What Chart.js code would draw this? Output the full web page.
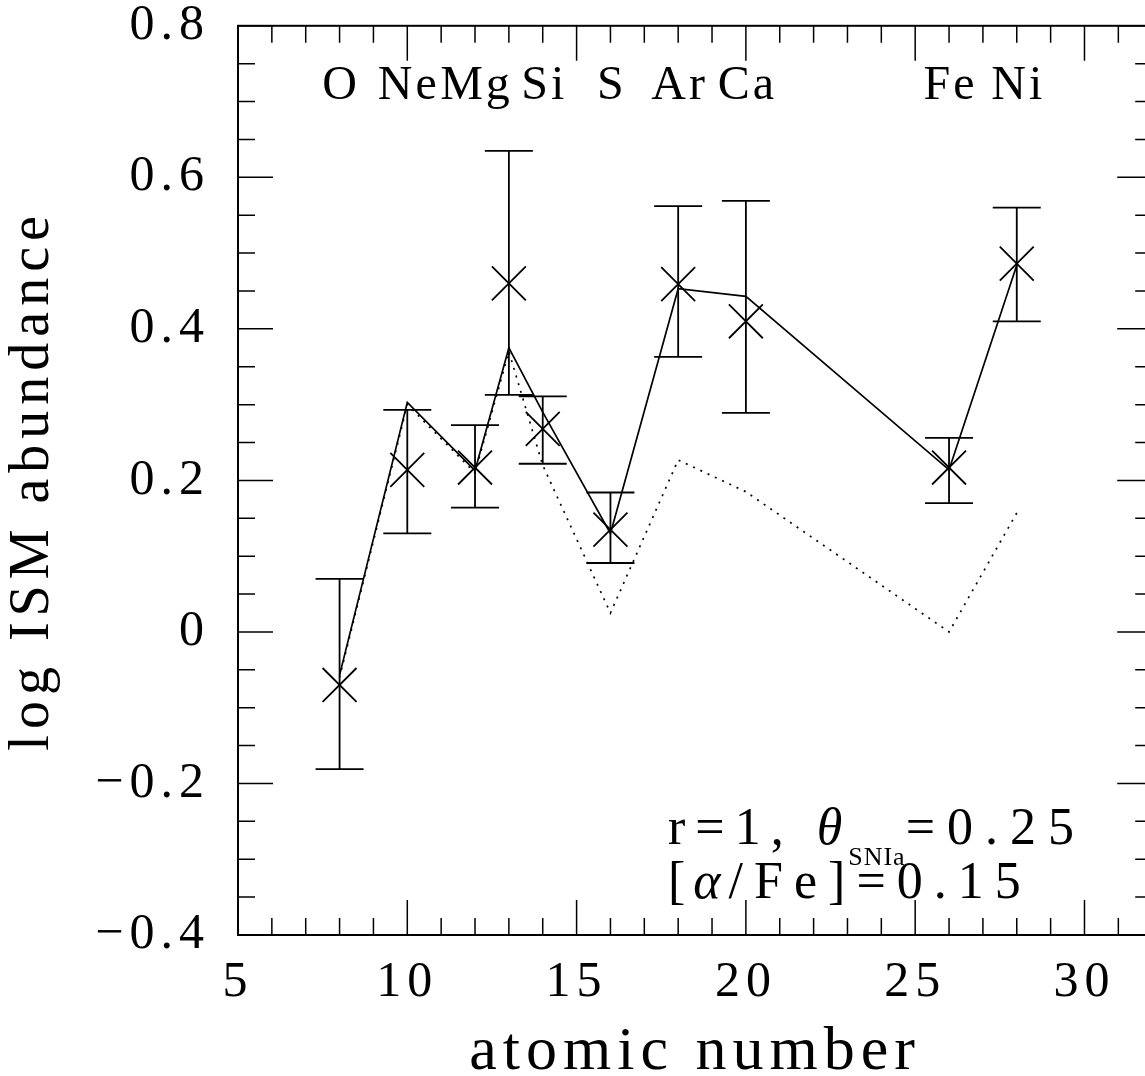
<!DOCTYPE html>
<html>
<head>
<meta charset="utf-8">
<script src="https://cdn.jsdelivr.net/npm/chart.js@4.4.1/dist/chart.umd.min.js"></script>
<style>
  html, body { margin: 0; padding: 0; background: #fff; overflow: hidden; }
  #wrap { width: 1178px; height: 1076px; }
</style>
</head>
<body>
<div id="wrap"><canvas id="abund" width="1178" height="1076"></canvas></div>
<script>
const FONT = '"Liberation Serif", "DejaVu Serif", serif'

// observed ISM abundances with their error ranges
const zObs = [8, 10, 12, 13, 14, 16, 18, 20, 26, 28]
const logObs = [-0.070, 0.214, 0.217, 0.460, 0.268, 0.135, 0.459, 0.410, 0.217, 0.486]
const errLo = [-0.181, 0.130, 0.164, 0.313, 0.222, 0.091, 0.363, 0.289, 0.170, 0.410]
const errHi = [0.070, 0.293, 0.273, 0.635, 0.311, 0.184, 0.562, 0.569, 0.256, 0.560]

// model curves
const zModel = [8, 10, 12, 13, 14, 16, 18, 20, 26, 28]
const modelSolid = [-0.057, 0.303, 0.213, 0.375, 0.290, 0.130, 0.453, 0.443, 0.214, 0.484]
const modelDotted = [-0.060, 0.300, 0.210, 0.370, 0.220, 0.025, 0.227, 0.185, 0.000, 0.157]

const elemNames = ['O', 'Ne', 'Mg', 'Si', 'S', 'Ar', 'Ca', 'Fe', 'Ni']
const elemZ = [8, 10, 12, 14, 16, 18, 20, 26, 28]

const xMajor = [5, 10, 15, 20, 25, 30]
const xTickLabels = ['5', '10', '15', '20', '25', '30']
const yMajor = [-0.4, -0.2, 0, 0.2, 0.4, 0.6, 0.8]
const yTickLabels = ['\u22120.4', '\u22120.2', '0', '0.2', '0.4', '0.6', '0.8']

const near = (a, b) => Math.abs(a - b) < 1e-6
const majorIndex = (list, v) => list.findIndex(m => near(m, v))
const pts = (xs, ys) => xs.map((v, i) => ({x: v, y: ys[i]}))

const spacing = {
    id: 'spacing',
    beforeUpdate: chart => { chart.ctx.letterSpacing = '6px' },
    beforeDraw: chart => { chart.ctx.letterSpacing = '6px' }
}

// box, inward ticks on all four sides, error bars
const frame = {
    id: 'frame',
    afterDatasetsDraw(chart) {
        const {ctx, chartArea: a, scales: {x, y}} = chart
        ctx.save()
        ctx.strokeStyle = '#000'
        ctx.lineWidth = 2
        ctx.strokeRect(a.left, a.top, a.right - a.left, a.bottom - a.top)

        ctx.lineWidth = 1.5
        ctx.beginPath()
        x.ticks.forEach(t => {
            const px = x.getPixelForValue(t.value)
            const len = majorIndex(xMajor, t.value) >= 0 ? 35 : 17
            ctx.moveTo(px, a.bottom); ctx.lineTo(px, a.bottom - len)
            ctx.moveTo(px, a.top); ctx.lineTo(px, a.top + len)
        })
        y.ticks.forEach(t => {
            const py = y.getPixelForValue(t.value)
            const len = majorIndex(yMajor, t.value) >= 0 ? 35 : 17
            ctx.moveTo(a.left, py); ctx.lineTo(a.left + len, py)
            ctx.moveTo(a.right, py); ctx.lineTo(a.right - len, py)
        })
        ctx.stroke()

        ctx.lineWidth = 1.8
        ctx.beginPath()
        zObs.forEach((z, i) => {
            const px = x.getPixelForValue(z)
            const lo = y.getPixelForValue(errLo[i])
            const hi = y.getPixelForValue(errHi[i])
            ctx.moveTo(px, lo); ctx.lineTo(px, hi)
            ctx.moveTo(px - 24, lo); ctx.lineTo(px + 24, lo)
            ctx.moveTo(px - 24, hi); ctx.lineTo(px + 24, hi)
        })
        ctx.stroke()
        ctx.restore()
    }
}

// element names along the top and the parameter note
const notes = {
    id: 'notes',
    afterDraw(chart) {
        const {ctx, scales: {x, y}} = chart
        ctx.save()
        ctx.fillStyle = '#000'
        ctx.textBaseline = 'alphabetic'
        ctx.textAlign = 'center'
        ctx.letterSpacing = '3px'
        ctx.font = `48px ${FONT}`
        elemNames.forEach((n, i) => {
            ctx.fillText(n, x.getPixelForValue(elemZ[i]) + 1.5, y.getPixelForValue(0.704))
        })

        ctx.textAlign = 'left'
        const run = (parts, px, py) => {
            parts.forEach(p => {
                ctx.font = p.f
                ctx.letterSpacing = p.ls
                ctx.fillText(p.t, px, py + (p.dy || 0))
                px += ctx.measureText(p.t).width
            })
        }
        const x0 = x.getPixelForValue(17.7)
        run([
            {t: 'r=1, ', f: `52px ${FONT}`, ls: '10px'},
            {t: '\u03b8', f: `italic 52px ${FONT}`, ls: '6px'},
            {t: 'SNIa', f: `26px ${FONT}`, ls: '1px', dy: 21},
            {t: '=0.25', f: `52px ${FONT}`, ls: '12px'}
        ], x0, y.getPixelForValue(-0.28))
        run([
            {t: '[', f: `52px ${FONT}`, ls: '8px'},
            {t: '\u03b1', f: `italic 52px ${FONT}`, ls: '8px'},
            {t: '/Fe]=0.15', f: `52px ${FONT}`, ls: '11px'}
        ], x0, y.getPixelForValue(-0.351))
        ctx.restore()
    }
}

new Chart(document.getElementById('abund'), {
    type: 'scatter',
    data: {
        datasets: [{
            label: 'observed',
            data: pts(zObs, logObs),
            showLine: false,
            pointStyle: 'crossRot',
            pointRadius: 24,
            borderColor: '#000',
            backgroundColor: 'transparent',
            borderWidth: 1.8
        }, {
            label: 'model',
            data: pts(zModel, modelSolid),
            showLine: true,
            pointRadius: 0,
            borderColor: '#000',
            borderWidth: 1.7
        }, {
            label: 'model (dotted)',
            data: pts(zModel, modelDotted),
            showLine: true,
            pointRadius: 0,
            borderColor: '#000',
            borderWidth: 1.7,
            borderDash: [2, 6]
        }]
    },
    options: {
        responsive: false,
        animation: false,
        layout: {padding: {top: 21, right: 9, left: 0, bottom: 0}},
        plugins: {legend: {display: false}, tooltip: {enabled: false}},
        scales: {
            x: {
                type: 'linear',
                min: 5,
                max: 32,
                grid: {display: false, drawTicks: false},
                border: {display: false},
                ticks: {
                    stepSize: 1,
                    autoSkip: false,
                    maxRotation: 0,
                    padding: 23,
                    color: '#000',
                    font: {family: FONT, size: 50, lineHeight: 1},
                    callback: v => {
                        const i = majorIndex(xMajor, v)
                        return i >= 0 ? xTickLabels[i] : ''
                    }
                },
                title: {
                    display: true,
                    text: 'atomic number',
                    color: '#000',
                    padding: 0,
                    font: {family: FONT, size: 62, lineHeight: 0.74}
                },
                afterFit: s => { s.height = 141; s.paddingLeft = 0; s.paddingRight = 0 }
            },
            y: {
                type: 'linear',
                min: -0.4,
                max: 0.8,
                grid: {display: false, drawTicks: false},
                border: {display: false},
                ticks: {
                    stepSize: 0.05,
                    autoSkip: false,
                    padding: 28,
                    color: '#000',
                    font: {family: FONT, size: 50, lineHeight: 1},
                    callback: v => {
                        const i = majorIndex(yMajor, v)
                        return i >= 0 ? yTickLabels[i] : ''
                    }
                },
                title: {
                    display: true,
                    text: 'log ISM abundance',
                    color: '#000',
                    padding: 0,
                    font: {family: FONT, size: 56, lineHeight: 1.18}
                },
                afterFit: s => { s.width = 238; s.paddingTop = 0; s.paddingBottom = 0 }
            }
        }
    },
    plugins: [spacing, frame, notes]
})
</script>
</body>
</html>
